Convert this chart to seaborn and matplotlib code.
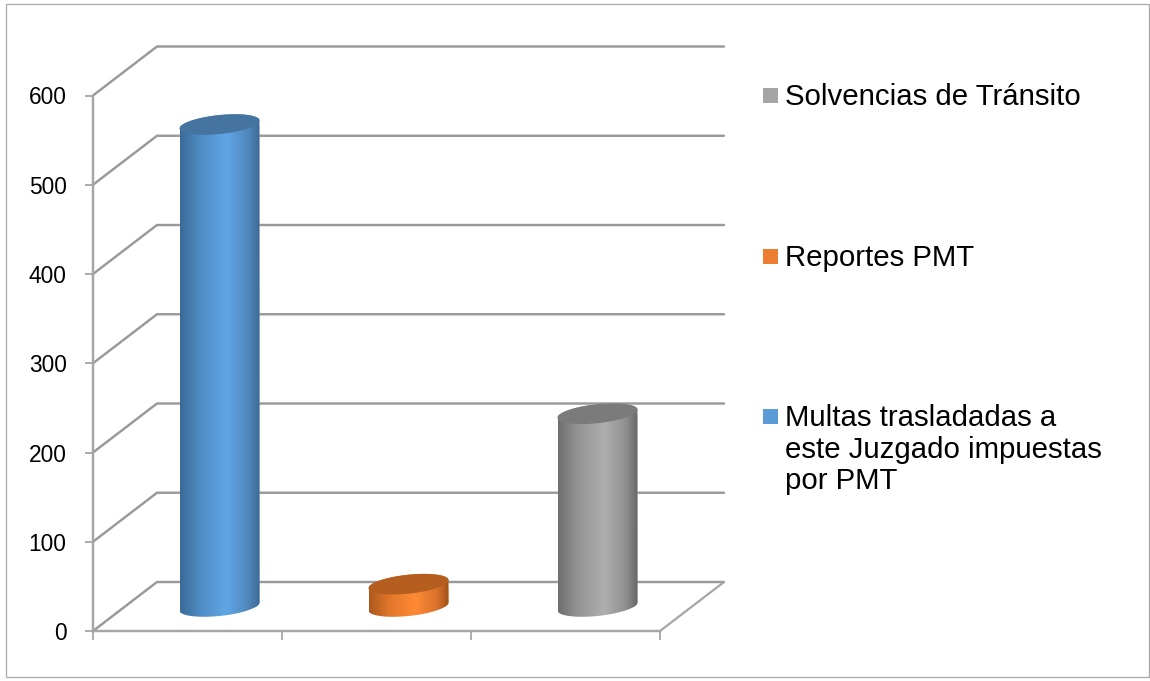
import numpy as np
import pandas as pd
import seaborn as sns
import matplotlib
matplotlib.use("Agg")
import matplotlib.pyplot as plt
from matplotlib.colors import LinearSegmentedColormap
from matplotlib.path import Path
from matplotlib.patches import Rectangle

# ---- data ----
categories = ["Multas trasladadas a\neste Juzgado impuestas\npor PMT", "Reportes PMT", "Solvencias de Tránsito"]
values = [540, 25, 216]
y_ticks = [0, 100, 200, 300, 400, 500, 600]
side_dark_left = ["#3a6a98", "#ad581c", "#6e6e6e"]
side_mid_left = ["#4f8cc4", "#e0762b", "#949494"]
side_light = ["#60a6e6", "#ff8a35", "#aeaeae"]
side_mid_right = ["#5088bd", "#d9722a", "#909090"]
side_dark_right = ["#3d6a94", "#a05218", "#666666"]
cap_colors = ["#44749f", "#b55e20", "#7b7b7b"]
legend_colors = ["#5b9bd5", "#ed7d31", "#a5a5a5"]

W, H = 1150, 681
sns.set_style("white")
plt.rcParams["font.family"] = ["Liberation Sans", "DejaVu Sans"]

fig = plt.figure(figsize=(W / 100, H / 100), dpi=100)
ax = fig.add_axes([93 / W, 1 - 631 / H, 567 / W, 535.5 / H])

df = pd.DataFrame({"cat": categories, "val": values})
sns.barplot(data=df, x="cat", y="val", hue="cat", palette=legend_colors, legend=False,
            width=80 / 189, saturation=1, ax=ax, zorder=3)
ax.set_xlim(-0.5, 2.5)
ax.set_ylim(0, 600)
ax.set_xlabel("")
ax.set_ylabel("")

px_x = 3 / 567   # category units per pixel
px_y = 600 / 535.5  # value units per pixel
depth_x = 64 * px_x
depth_y = 49 * px_y
grid_col = "#999999"
axis_col = "#a6a6a6"

# walls and floor
for t in y_ticks:
    ax.plot([-0.5, -0.5 + depth_x, 2.5 + depth_x], [t, t + depth_y, t + depth_y],
            color=grid_col, lw=1.75, clip_on=False, zorder=1, solid_joinstyle="miter")
ax.plot([2.5, 2.5 + depth_x], [0, depth_y], color=axis_col, lw=1.6, clip_on=False, zorder=1)

for s in ["top", "right"]:
    ax.spines[s].set_visible(False)
for s in ["left", "bottom"]:
    ax.spines[s].set_color(axis_col)
    ax.spines[s].set_linewidth(1.75)
ax.set_yticks(y_ticks)
ax.set_yticklabels([str(t) for t in y_ticks], fontsize=16.4, color="#000000")
ax.set_xticks([-0.5, 0.5, 1.5, 2.5])
ax.set_xticklabels(["", "", "", ""])
ax.tick_params(axis="y", length=6, width=1.3, color=axis_col, pad=13, left=True)
ax.tick_params(axis="x", length=6.5, width=1.3, color=axis_col, bottom=True)

# cylinders drawn over the bars seaborn produced
a_cat = 40 * px_x
b_val = 9.5 * px_y
k_val = 4 * px_y
theta = np.linspace(0, 2 * np.pi, 181)
for i, bar in enumerate(ax.patches):
    bar.set_x(bar.get_x() + depth_x / 2)
    bar.set_y(depth_y / 2)
    x0 = bar.get_x()
    w = bar.get_width()
    h = bar.get_height()
    cx = x0 + w / 2
    y0 = bar.get_y()
    y1 = y0 + h

    def ell(t, cy):
        return cx + a_cat * np.cos(t), cy + b_val * np.sin(t) + k_val * np.cos(t)

    ut = np.linspace(0, np.pi, 91)
    lt = np.linspace(np.pi, 2 * np.pi, 91)
    ux, uy = ell(ut, y1)
    lx, ly = ell(lt, y0)
    pts = np.vstack([np.c_[lx, ly], np.c_[ux, uy], [[lx[0], ly[0]]]])
    clip = Path(pts)
    bar.set_clip_path(clip, ax.transData)
    bar.set_clip_on(True)

    cmap = LinearSegmentedColormap.from_list(
        "side", [(0, side_dark_left[i]), (0.25, side_mid_left[i]), (0.58, side_light[i]),
                 (0.85, side_mid_right[i]), (1, side_dark_right[i])])
    grad = np.linspace(0, 1, 256).reshape(1, -1)
    im = ax.imshow(grad, cmap=cmap, aspect="auto", zorder=4, interpolation="bilinear",
                   extent=(x0, x0 + w, y0 - 2 * b_val, y1 + 2 * b_val))
    im.set_clip_path(clip, ax.transData)

    cx_, cy_ = ell(theta, y1)
    ax.fill(cx_, cy_, color=cap_colors[i], lw=0, zorder=5, clip_on=False)

ax.set_xlim(-0.5, 2.5)
ax.set_ylim(0, 600)

# legend
legend_rows = [(2, 95.5, 763), (1, 256.5, 763), (0, 416.5, 763)]
for idx, yp, xp in legend_rows:
    fig.add_artist(Rectangle((xp / W, 1 - (yp + 7.5) / H), 15 / W, 15 / H, transform=fig.transFigure,
                             facecolor=legend_colors[idx], edgecolor="none"))
    fig.text(785 / W, 1 - (yp - 12.5) / H, categories[idx], fontsize=21.2, color="#000000",
             va="top", ha="left", linespacing=1.16)

# outer frame
fig.add_artist(Rectangle((6 / W, 1 - 677 / H), 1143 / W, 673 / H, transform=fig.transFigure,
                         facecolor="none", edgecolor="#a9a9a9", lw=0.9))

fig.savefig("out.png", dpi=100)
